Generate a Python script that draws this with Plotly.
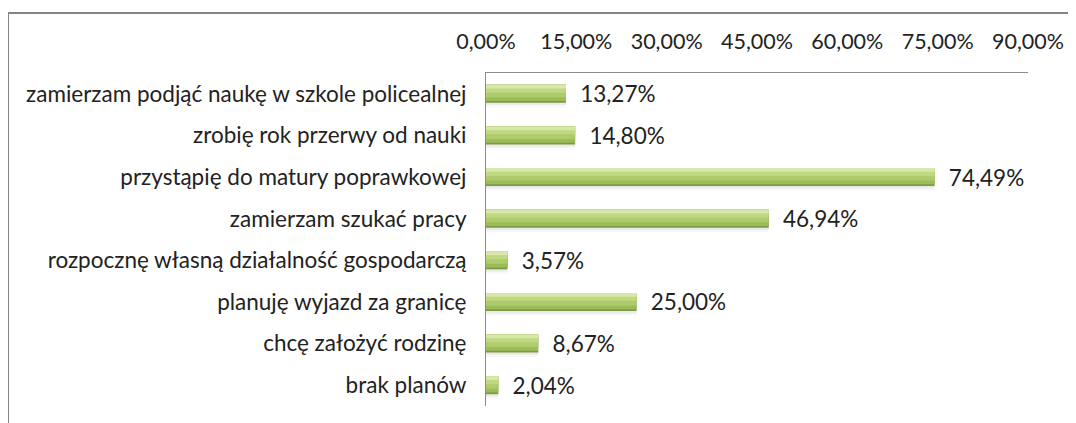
import plotly.graph_objects as go

categories = [
    "zamierzam podjąć naukę w szkole policealnej",
    "zrobię rok przerwy od nauki",
    "przystąpię do matury poprawkowej",
    "zamierzam szukać pracy",
    "rozpocznę własną działalność gospodarczą",
    "planuję wyjazd za granicę",
    "chcę założyć rodzinę",
    "brak planów",
]
values = [13.27, 14.80, 74.49, 46.94, 3.57, 25.00, 8.67, 2.04]
tick_values = [0, 15, 30, 45, 60, 75, 90]
tick_labels = ["0,00%", "15,00%", "30,00%", "45,00%", "60,00%", "75,00%", "90,00%"]
value_labels = ["13,27%", "14,80%", "74,49%", "46,94%", "3,57%", "25,00%", "8,67%", "2,04%"]

FONT = "Lato"
FS = 22.5
TXT = "#222222"

fig = go.Figure()

# layered strips to imitate the cylinder-like gradient bar
layers = [
    # (offset, width, color)
    (-0.20, 0.52, "rgba(0,0,0,0.03)"),   # soft shadow
    (-0.20, 0.47, "rgba(0,0,0,0.05)"),
    (-0.216, 0.432, "#7c9a44"),           # dark base
    (-0.216, 0.39, "#9cbc5a"),
    (-0.216, 0.30, "#afcc6c"),
    (-0.216, 0.19, "#c0d882"),
    (-0.216, 0.09, "#d8e8aa"),            # highlight
]
for off, w, col in layers:
    fig.add_trace(go.Bar(
        y=categories, x=values, orientation="h",
        offset=off, width=w,
        marker=dict(color=col, line=dict(width=0)),
        hoverinfo="skip", showlegend=False,
    ))

# labels
fig.add_trace(go.Bar(
    y=categories, x=values, orientation="h",
    offset=-0.216, width=0.432,
    marker=dict(color="rgba(0,0,0,0)", line=dict(width=0)),
    text=["\u2002" + t for t in value_labels], textposition="outside",
    constraintext="none",
    textfont=dict(family=FONT, size=FS, color=TXT),
    cliponaxis=False, showlegend=False, hoverinfo="skip",
))

# figure is drawn with an 8px page offset
W, H = 1068, 415
L, T = 478, 65
R = W - 1020
B = H - 398
pw, ph = W - L - R, H - T - B

fig.update_layout(
    width=W, height=H,
    margin=dict(l=L, r=R, t=T, b=B, pad=0),
    barmode="overlay",
    plot_bgcolor="white", paper_bgcolor="white",
    font=dict(family=FONT, size=FS, color=TXT),
    xaxis=dict(
        side="top", range=[0, 90], tickvals=tick_values, ticktext=tick_labels,
        showgrid=False, zeroline=False, showline=True, linecolor="#8c8c8c",
        linewidth=1, ticks="", ticklabelstandoff=14,
        tickfont=dict(family=FONT, size=21.5, color=TXT),
    ),
    yaxis=dict(
        autorange="reversed", showgrid=False, zeroline=False, showline=True,
        linecolor="#8c8c8c", linewidth=1, ticks="", ticklabelstandoff=14,
        tickfont=dict(family=FONT, size=FS, color=TXT),
    ),
    shapes=[
        dict(type="line", xref="paper", yref="paper",
             x0=(0 - L) / pw, x1=(W + 10 - L) / pw,
             y0=1 + (T - 5) / ph, y1=1 + (T - 5) / ph,
             line=dict(color="#858585", width=2)),
        dict(type="line", xref="paper", yref="paper",
             x0=(0 - L) / pw, x1=(0 - L) / pw,
             y0=1 + (T - 5) / ph, y1=-(B + 10) / ph,
             line=dict(color="#858585", width=2)),
    ],
)

fig.write_html("out.html")
